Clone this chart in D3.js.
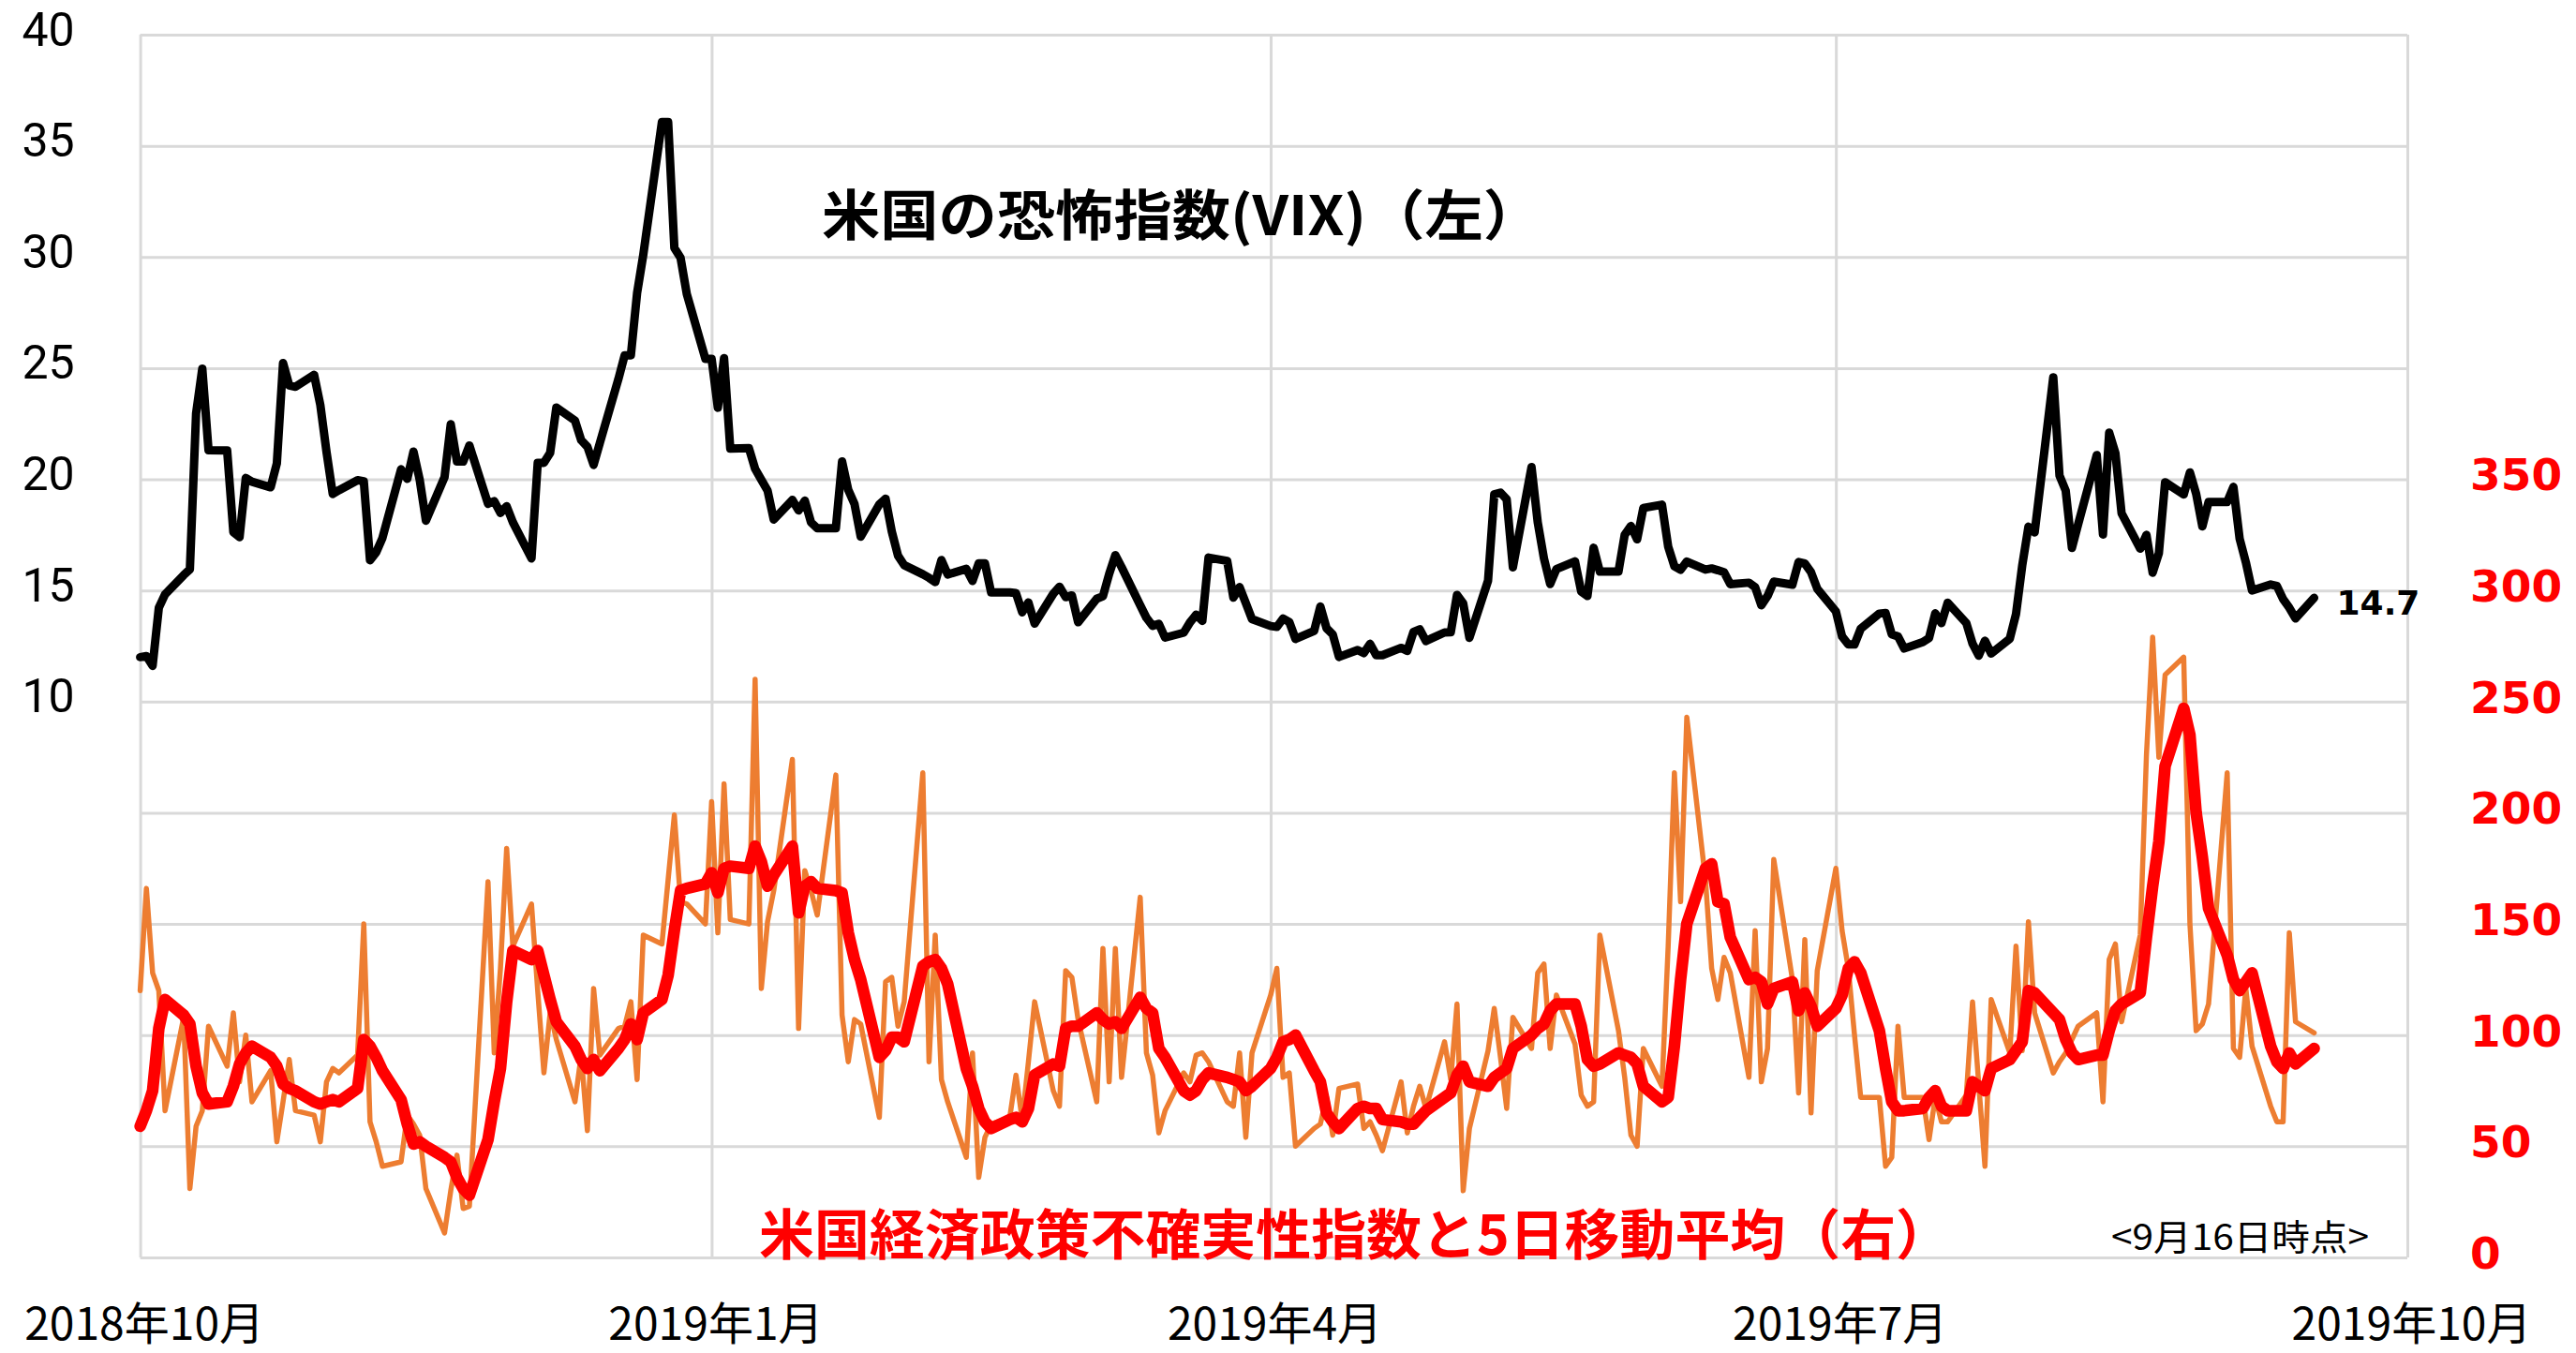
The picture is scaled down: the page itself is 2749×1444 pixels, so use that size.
<!DOCTYPE html>
<html lang="ja">
<head>
<meta charset="utf-8">
<title>米国の恐怖指数(VIX)と米国経済政策不確実性指数</title>
<script src="https://cdn.jsdelivr.net/npm/d3@7"></script>
<style>
  html, body { margin: 0; padding: 0; background: #fff; }
  svg { display: block; }
</style>
</head>
<body>
<div id="chart"></div>
<script>
// 平日ベースの日付（祝日は前営業日の値）
const firstDay = "2018-10-01";
const lastDay = "2019-09-16";

// 米国の恐怖指数 VIX（左軸）
const vix = [
  // 2018/10
  12.00, 12.05, 11.61, 14.22, 14.82, 15.69, 15.95, 22.96, 24.98, 21.31,
  21.30, 17.62, 17.40, 20.06, 19.89, 19.64, 20.71, 25.23, 24.22, 24.16,
  24.70, 23.35, 21.23,
  // 2018/11
  19.34, 19.51, 19.96, 19.91, 16.36, 16.72, 17.36, 20.45, 20.02, 21.25,
  19.98, 18.14, 20.10, 22.48, 20.80, 20.80, 21.52, 18.90, 19.02, 18.49,
  18.79, 18.07,
  // 2018/12
  16.44, 20.74, 20.74, 21.19, 23.23, 22.64, 21.76, 21.46, 20.65, 21.63,
  24.52, 25.58, 25.58, 28.38, 30.11, 36.07, 36.07, 30.41, 29.96, 28.34,
  25.42,
  // 2019/01
  25.42, 23.22, 25.45, 21.38, 21.40, 20.47, 19.98, 19.50, 18.19, 19.07,
  18.60, 19.04, 18.06, 17.80, 17.80, 20.80, 19.52, 18.89, 17.42, 18.87,
  19.13, 17.66, 16.57,
  // 2019/02
  16.14, 15.73, 15.57, 15.38, 16.37, 15.72, 15.97, 15.43, 16.22, 16.22,
  14.91, 14.91, 14.88, 14.02, 14.46, 13.51, 14.85, 15.17, 14.70, 14.78,
  // 2019/03
  13.57, 14.63, 14.74, 15.74, 16.59, 16.05, 14.33, 13.77, 13.41, 13.50,
  12.88, 13.10, 13.56, 13.91, 13.63, 16.48, 16.33, 14.68, 15.15, 14.43,
  13.71,
  // 2019/04
  13.40, 13.36, 13.74, 13.58, 12.82, 13.18, 14.28, 13.30, 13.02, 12.01,
  12.32, 12.18, 12.60, 12.09, 12.09, 12.42, 12.28, 13.14, 13.25, 12.73,
  13.11, 13.12,
  // 2019/05
  14.80, 14.42, 12.87, 15.44, 19.32, 19.40, 19.10, 16.04, 20.55, 18.06,
  16.44, 15.29, 15.96, 16.31, 14.95, 14.75, 16.92, 15.85, 15.85, 17.50,
  17.90, 17.30, 18.71,
  // 2019/06
  18.86, 16.97, 16.09, 15.93, 16.30, 15.94, 15.99, 15.91, 15.82, 15.28,
  15.35, 15.15, 14.33, 14.75, 15.40, 15.26, 16.28, 16.21, 15.82, 15.08,
  // 2019/07
  14.06, 12.93, 12.57, 12.57, 13.28, 13.96, 13.99, 13.03, 12.93, 12.39,
  12.68, 12.86, 13.97, 13.53, 14.45, 13.53, 12.61, 12.07, 12.74, 12.16,
  12.83, 13.94, 16.12,
  // 2019/08
  17.87, 17.61, 24.59, 20.17, 19.49, 16.91, 17.97, 21.09, 17.52, 22.10,
  21.18, 18.47, 16.88, 17.50, 15.80, 16.68, 19.87, 19.32, 20.31, 19.35,
  17.88, 18.98,
  // 2019/09
  18.98, 19.66, 17.33, 16.27, 15.00, 15.27, 15.20, 14.61, 14.22, 13.74,
  14.67
];

// 米国経済政策不確実性指数（日次、右軸）
const epu = [
  // 2018/10
  120, 166, 128, 120, 66, 108, 31, 59, 66, 104, 86, 110, 79, 100, 70, 84,
  52, 70, 89, 66, 64, 52, 79,
  // 2018/11
  85, 83, 91, 150, 61, 52, 41, 43, 64, 60, 55, 31, 11, 30, 46, 22, 23, 169,
  92, 130, 184, 140,
  // 2018/12
  159, 120, 83, 110, 98, 70, 91, 57, 121, 91, 103, 104, 115, 80, 145, 141,
  170, 199, 160, 159, 150,
  // 2019/01
  205, 146, 213, 152, 150, 260, 121, 151, 165, 224, 103, 174, 165, 154, 217,
  109, 88, 107, 105, 63, 124, 126, 104,
  // 2019/02
  115, 218, 88, 145, 80, 70, 45, 92, 36, 54, 60, 63, 82, 62, 88, 115, 75,
  68, 129, 126,
  // 2019/03
  107, 70, 139, 79, 139, 81, 162, 92, 82, 56, 66, 83, 79, 91, 92, 88, 70,
  68, 92, 54, 92,
  // 2019/04
  118, 130, 81, 83, 50, 58, 60, 72, 55, 76, 78, 58, 61, 55, 48, 79, 56, 68,
  77, 67, 97, 80,
  // 2019/05
  114, 30, 58, 93, 112, 90, 67, 108, 94, 128, 132, 94, 118, 96, 73, 68, 70,
  145, 102, 81, 55, 50, 94,
  // 2019/06
  77, 140, 218, 160, 243, 170, 130, 116, 135, 128, 81, 147, 79, 94, 179,
  125, 74, 143, 65, 129,
  // 2019/07
  175, 147, 130, 100, 72, 72, 41, 45, 104, 72, 72, 53, 72, 61, 61, 73, 115,
  78, 41, 116, 92, 140, 93,
  // 2019/08
  151, 110, 83, 88, 92, 98, 104, 110, 70, 134, 141, 106, 145, 226, 279,
  225, 262, 270, 150, 102, 105, 114,
  // 2019/09
  218, 94, 90, 121, 95, 68, 61, 61, 146, 106, 101
];

// 同 5日移動平均（右軸）
const epuAvg = [
  // 2018/10
  59, 66, 75, 103, 116, 109, 105, 86, 74, 69, 70, 77, 87, 92, 95, 90, 86,
  78, 76, 75, 70, 69, 70,
  // 2018/11
  71, 70, 76, 98, 95, 90, 84, 71, 60, 51, 52, 50, 45, 43, 36, 31, 28, 53,
  70, 85, 115, 138,
  // 2018/12
  134, 138, 127, 116, 106, 95, 89, 85, 89, 84, 94, 98, 105, 98, 110, 116,
  127, 147, 165, 166, 168,
  // 2019/01
  173, 164, 175, 176, 175, 185, 178, 167, 172, 185, 155, 167, 169, 166, 165,
  164, 146, 134, 125, 90, 93, 99, 99,
  // 2019/02
  97, 131, 133, 134, 130, 123, 85, 77, 67, 61, 58, 62, 63, 61, 67, 82, 87,
  86, 103, 104,
  // 2019/03
  104, 110, 107, 105, 106, 103, 117, 112, 110, 94, 90, 75, 73, 75, 80, 83,
  81, 80, 79, 75, 77,
  // 2019/04
  85, 90, 97, 98, 100, 84, 79, 65, 61, 58, 67, 68, 67, 67, 62, 61, 60, 60,
  63, 66, 72, 74,
  // 2019/05
  82, 86, 79, 77, 81, 83, 85, 94, 100, 103, 105, 111, 114, 114, 104, 89,
  86, 87, 92, 91, 90, 87, 77,
  // 2019/06
  70, 72, 95, 125, 150, 175, 177, 160, 159, 144, 125, 126, 124, 114, 121,
  124, 111, 119, 113, 104,
  // 2019/07
  112, 118, 130, 133, 128, 102, 85, 70, 66, 66, 67, 72, 75, 68, 66, 66, 79,
  77, 75, 85, 89, 93, 97,
  // 2019/08
  120, 119, 110, 107, 98, 92, 89, 91, 91, 102, 111, 114, 119, 144, 167,
  187, 221, 247, 235, 200, 180, 157,
  // 2019/09
  136, 125, 120, 124, 128, 95, 88, 85, 92, 87, 94
];

// 軸
const monthTicks = ["2018-10-01", "2019-01-01", "2019-04-01", "2019-07-01", "2019-10-01"];
const monthLabels = ["2018年10月", "2019年1月", "2019年4月", "2019年7月", "2019年10月"];
const leftTicks = [10, 15, 20, 25, 30, 35, 40];
const rightTicks = [0, 50, 100, 150, 200, 250, 300, 350];

const vixTitle = "米国の恐怖指数(VIX)（左）";
const epuTitle = "米国経済政策不確実性指数と5日移動平均（右）";
const asOfNote = "<9月16日時点>";

const width = 2749, height = 1444;
const plot = { left: 149.6, right: 2569, top: 37, bottom: 1342 };
const jpFont = "'Noto Sans CJK JP', 'Noto Sans', sans-serif";
const numFont = "'DejaVu Sans', Verdana, sans-serif";

const parse = d3.utcParse("%Y-%m-%d");
const dates = d3.utcDay
  .range(parse(firstDay), d3.utcDay.offset(parse(lastDay), 1))
  .filter(d => d.getUTCDay() !== 0 && d.getUTCDay() !== 6);

const x = d3.scaleUtc()
  .domain([parse(monthTicks[0]), parse(monthTicks[monthTicks.length - 1])])
  .range([plot.left, plot.right]);
const yLeft = d3.scaleLinear().domain([-15, 40]).range([plot.bottom, plot.top]);
const yRight = d3.scaleLinear().domain([0, 550]).range([plot.bottom, plot.top]);

const svg = d3.select("#chart")
  .append("svg")
  .attr("width", width)
  .attr("height", height)
  .attr("viewBox", `0 0 ${width} ${height}`);

svg.append("rect").attr("width", width).attr("height", height).attr("fill", "#fff");

// horizontal gridlines
svg.append("g")
  .attr("transform", `translate(${plot.left},0)`)
  .call(d3.axisLeft(yRight).ticks(11).tickSize(-(plot.right - plot.left)).tickFormat(""))
  .call(g => g.select(".domain").remove())
  .call(g => g.selectAll("line").attr("stroke", "#d9d9d9").attr("stroke-width", 3));

// x axis with vertical gridlines
svg.append("g")
  .attr("transform", `translate(0,${plot.bottom})`)
  .call(d3.axisBottom(x)
    .tickValues(monthTicks.map(parse))
    .tickSize(-(plot.bottom - plot.top))
    .tickPadding(54)
    .tickFormat((d, i) => monthLabels[i]))
  .call(g => g.select(".domain").remove())
  .call(g => g.selectAll("line").attr("stroke", "#d9d9d9").attr("stroke-width", 3))
  .call(g => g.selectAll("text")
    .attr("fill", "#000")
    .attr("font-family", jpFont)
    .attr("font-size", 48)
    .attr("dx", 4));

// left axis labels
svg.append("g")
  .attr("transform", `translate(${plot.left},0)`)
  .call(d3.axisLeft(yLeft).tickValues(leftTicks).tickSize(0).tickPadding(70))
  .call(g => g.select(".domain").remove())
  .call(g => g.selectAll("text")
    .attr("fill", "#000")
    .attr("font-family", "Roboto, 'Liberation Sans', sans-serif")
    .attr("font-size", 50)
    .attr("dy", "0.22em"));

// right axis labels
svg.append("g")
  .attr("transform", `translate(${plot.right},0)`)
  .call(d3.axisRight(yRight).tickValues(rightTicks).tickSize(0).tickPadding(67))
  .call(g => g.select(".domain").remove())
  .call(g => g.selectAll("text")
    .attr("fill", "#ff0000")
    .attr("font-family", numFont)
    .attr("font-weight", "bold")
    .attr("font-size", 47)
    .attr("dy", "0.24em"));

const n = Math.min(dates.length, vix.length, epu.length, epuAvg.length);
const rows = d3.range(n).map(i => ({ date: dates[i], vix: vix[i], epu: epu[i], avg: epuAvg[i] }));

const drawLine = (key, scale, color, w) => {
  svg.append("path")
    .datum(rows)
    .attr("fill", "none")
    .attr("stroke", color)
    .attr("stroke-width", w)
    .attr("stroke-linejoin", "round")
    .attr("stroke-linecap", "round")
    .attr("d", d3.line().x(d => x(d.date)).y(d => scale(d[key])));
};

drawLine("epu", yRight, "#ed7d31", 5.5);
drawLine("avg", yRight, "#ff0000", 12.5);
drawLine("vix", yLeft, "#000000", 9);

// last VIX value label
const last = rows[rows.length - 1];
svg.append("text")
  .attr("x", x(last.date) + 24)
  .attr("y", yLeft(last.vix) + 18)
  .attr("font-family", numFont)
  .attr("font-weight", "bold")
  .attr("font-size", 36)
  .attr("fill", "#000")
  .text(d3.format(".1f")(last.vix));

// series titles
svg.append("text")
  .attr("x", 877)
  .attr("y", 251)
  .attr("font-family", jpFont)
  .attr("font-weight", "bold")
  .attr("font-size", 58)
  .attr("textLength", 768)
  .attr("lengthAdjust", "spacingAndGlyphs")
  .attr("fill", "#000")
  .text(vixTitle);

svg.append("text")
  .attr("x", 810)
  .attr("y", 1339)
  .attr("font-family", jpFont)
  .attr("font-weight", "bold")
  .attr("font-size", 58)
  .attr("textLength", 1272)
  .attr("lengthAdjust", "spacingAndGlyphs")
  .attr("fill", "#ff0000")
  .text(epuTitle);

svg.append("text")
  .attr("x", 2253)
  .attr("y", 1334)
  .attr("font-family", jpFont)
  .attr("font-size", 38)
  .attr("textLength", 275)
  .attr("lengthAdjust", "spacingAndGlyphs")
  .attr("fill", "#000")
  .text(asOfNote);
</script>
</body>
</html>
